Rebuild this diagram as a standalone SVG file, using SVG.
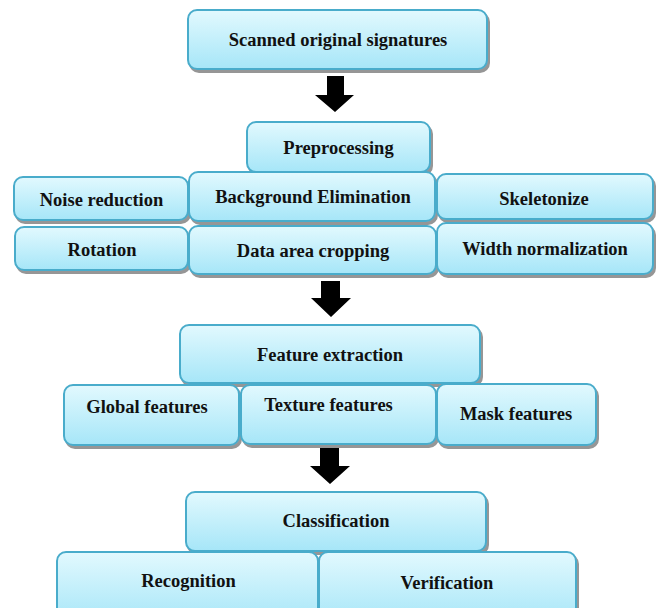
<svg xmlns="http://www.w3.org/2000/svg" width="656" height="608" viewBox="0 0 656 608">
<defs>
<linearGradient id="g" x1="0" y1="0" x2="0" y2="1">
<stop offset="0" stop-color="#e2f9fe"/>
<stop offset="1" stop-color="#a6e6f8"/>
</linearGradient>
<filter id="sh" x="-5%" y="-5%" width="115%" height="125%">
<feDropShadow dx="2" dy="3" stdDeviation="0.7" flood-color="#8a8a8a" flood-opacity="0.9"/>
</filter>
</defs>
<style>
.box{fill:url(#g);stroke:#4aaccb;stroke-width:2;filter:url(#sh)}
.t{font-family:"Liberation Serif","Times New Roman",serif;font-weight:bold;font-size:18.5px;fill:#111;text-anchor:middle}
.arr{fill:#000}
</style>
<rect width="656" height="608" fill="#fff"/>
<g id="scanned"><rect class="box" x="188" y="10" width="299" height="59" rx="9"/><text class="t" x="338" y="46">Scanned original signatures</text></g>
<g id="preprocessing"><rect class="box" x="247" y="122" width="183" height="50" rx="9"/><text class="t" x="338.5" y="154">Preprocessing</text></g>
<g id="noise"><rect class="box" x="14" y="177" width="174" height="43" rx="9"/><text class="t" x="101.5" y="206">Noise reduction</text></g>
<g id="background"><rect class="box" x="189" y="172" width="246" height="49" rx="9"/><text class="t" x="313" y="203">Background Elimination</text></g>
<g id="skeletonize"><rect class="box" x="437" y="174" width="216" height="45" rx="9"/><text class="t" x="544" y="205">Skeletonize</text></g>
<g id="rotation"><rect class="box" x="15" y="227" width="173" height="43" rx="9"/><text class="t" x="102" y="256">Rotation</text></g>
<g id="cropping"><rect class="box" x="189" y="226" width="247" height="48" rx="9"/><text class="t" x="313" y="257">Data area cropping</text></g>
<g id="width"><rect class="box" x="437" y="223" width="216" height="51" rx="9"/><text class="t" x="545" y="255">Width normalization</text></g>
<g id="feature"><rect class="box" x="180" y="325" width="300" height="58" rx="9"/><text class="t" x="330" y="361">Feature extraction</text></g>
<g id="global"><rect class="box" x="64" y="385" width="175" height="60" rx="9"/><text class="t" x="147" y="413">Global features</text></g>
<g id="texture"><rect class="box" x="241" y="385" width="195" height="59" rx="9"/><text class="t" x="328.5" y="411">Texture features</text></g>
<g id="mask"><rect class="box" x="437" y="384" width="159" height="61" rx="9"/><text class="t" x="516" y="420">Mask features</text></g>
<g id="classification"><rect class="box" x="186" y="492" width="300" height="59" rx="9"/><text class="t" x="336" y="527">Classification</text></g>
<g id="recognition"><rect class="box" x="57" y="552" width="261" height="72" rx="9"/><text class="t" x="188.5" y="587">Recognition</text></g>
<g id="verification"><rect class="box" x="319" y="552" width="257" height="72" rx="9"/><text class="t" x="447" y="589">Verification</text></g>
<g id="connectors">
<polygon class="arr" points="327,76 344,76 344,95 354,95 335,112 315,95 327,95"/>
<polygon class="arr" points="321,281 340,281 340,298 351,298 331,317 311,298 321,298"/>
<polygon class="arr" points="320,448 339,448 339,466 350,466 330,484 310,466 320,466"/>
</g>
</svg>
